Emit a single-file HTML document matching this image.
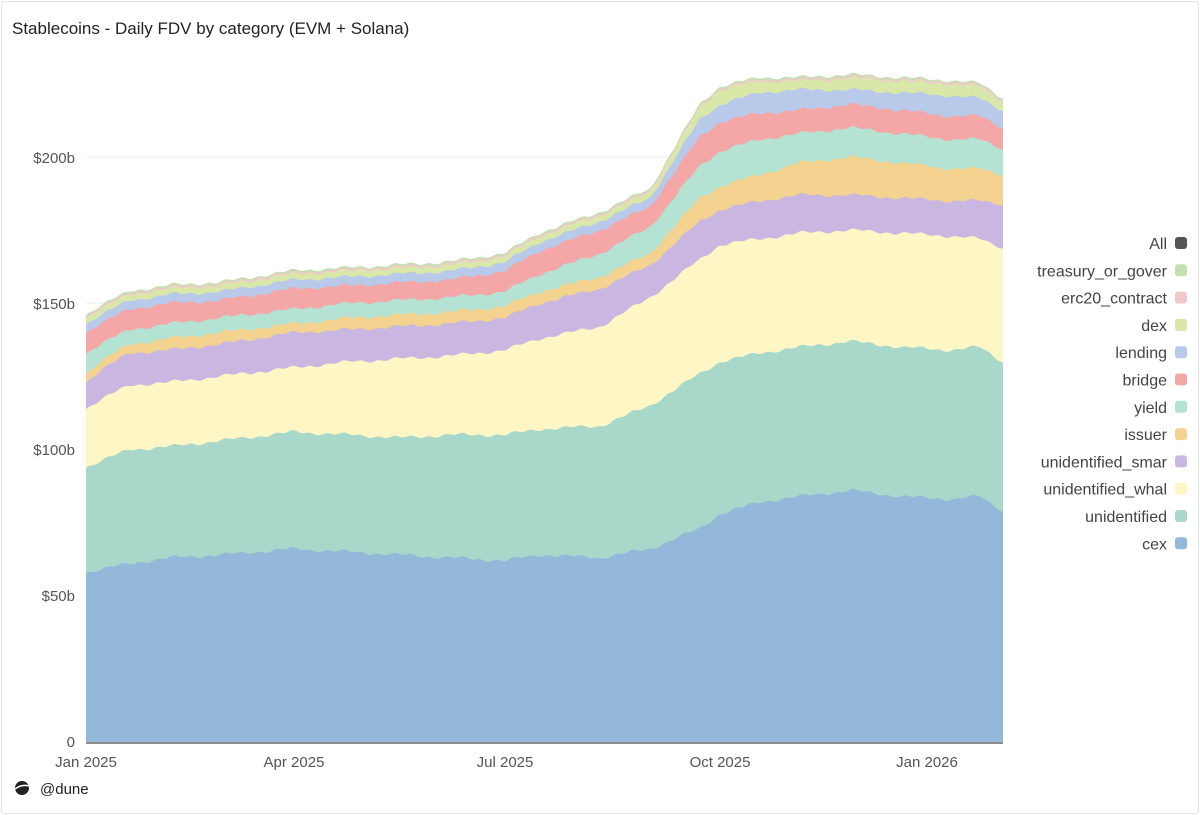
<!DOCTYPE html>
<html><head><meta charset="utf-8"><style>
html,body{margin:0;padding:0;background:#fff;}
body{width:1200px;height:815px;overflow:hidden;position:relative;font-family:"Liberation Sans",sans-serif;}
.card{position:absolute;left:1px;top:1px;width:1196px;height:811px;border:1px solid #e4e4e4;border-radius:4px;}
</style></head><body>
<div class="card"></div>
<svg id="s" width="1200" height="815" style="position:absolute;left:0;top:0" xmlns="http://www.w3.org/2000/svg">
<text x="12" y="34" font-size="17" fill="#222" font-family="Liberation Sans, sans-serif">Stablecoins - Daily FDV by category (EVM + Solana)</text>
<g id="grid"></g>
<g id="areas"></g>
<g font-size="15" fill="#555" font-family="Liberation Sans, sans-serif" text-anchor="end">
<text x="75" y="747">0</text>
<text x="75" y="601">$50b</text>
<text x="75" y="455">$100b</text>
<text x="75" y="309">$150b</text>
<text x="75" y="163">$200b</text>
</g>
<line x1="86" y1="743" x2="1003" y2="743" stroke="#666" stroke-width="1.5"/>
<g font-size="15" fill="#555" font-family="Liberation Sans, sans-serif" text-anchor="middle">
<text x="86" y="767">Jan 2025</text>
<text x="294" y="767">Apr 2025</text>
<text x="505" y="767">Jul 2025</text>
<text x="720" y="767">Oct 2025</text>
<text x="927" y="767">Jan 2026</text>
</g>
<g id="legend" font-size="16" fill="#444" font-family="Liberation Sans, sans-serif" text-anchor="end"></g>
<circle cx="22" cy="788" r="7" fill="#222"/>
<path d="M15 789 Q22 784 29 786" stroke="#fff" stroke-width="1.5" fill="none"/>
<text x="40" y="794" font-size="15" fill="#222" font-family="Liberation Sans, sans-serif">@dune</text>
</svg>
<script>
var NS="http://www.w3.org/2000/svg";
var g=document.getElementById('grid');
[157,303,449,595].forEach(function(y){var l=document.createElementNS(NS,'line');l.setAttribute('x1',86);l.setAttribute('x2',1003);l.setAttribute('y1',y);l.setAttribute('y2',y);l.setAttribute('stroke','#ececec');g.appendChild(l);});
var X=[86,100,130,170,220,294,350,400,450,505,540,600,650,700,720,760,800,850,900,950,980,1003];
var L=[
[58,59,61,63,64,66,65,64,63,62,64,63,66,73,78,82,84,86,84,83,84,79],
[94,96,100,101,103,106,105,104,105,105,107,108,115,126,130,133,135,137,135,134,135,130],
[114,117,122,123,125,128,130,131,132,134,138,142,152,165,170,172,174,175,174,173,172,169],
[123,127,133,134,136,140,141,142,143,145,150,155,163,178,182,185,187,187,186,185,185,184],
[126,130,136,138,140,143,145,146,147,149,154,159,167,186,190,194,198,200,198,196,196,194],
[133,136,141,143,145,148,150,151,152,154,160,167,176,197,202,206,208,210,208,206,206,203],
[140,143,148,150,151,155,156,157,158,161,168,175,183,207,212,215,216,218,216,214,214,210],
[143,146,151,153,154,158,159,160,161,164,171,178,186,213,218,222,223,223,222,221,220,216],
[145,148,153,155,156,160,161,162,163,166,173,180,188,217,223,226,226,227,226,225,224,219]
];
var C=['#93b8d9','#a8d8c9','#fff6c6','#c9b7e1','#f3d38f','#b5e3d3','#f4a7a6','#b9c9e9','#d9e7a9','#f1c9cd','#c4e0b1'];
function interp(arr,x){for(var i=0;i<X.length-1;i++){if(x<=X[i+1]){var t=(x-X[i])/(X[i+1]-X[i]);return arr[i]+(arr[i+1]-arr[i])*t;}}return arr[arr.length-1];}
var xs=[];for(var x=86;x<=1003;x+=3)xs.push(x);if(xs[xs.length-1]!=1003)xs.push(1003);
function noise(x){return Math.sin(x*0.37)*0.35+Math.sin(x*0.11+1.3)*0.4;}
var tops=[];
for(var k=0;k<11;k++){tops.push(xs.map(function(x,i){var v;
 if(k<9)v=interp(L[k],x);else v=interp(L[8],x)+(k-8)*0.6;
 return v+noise(x);}));}
var y=function(v){return 742-v*2.925;};
var A=document.getElementById('areas');
for(var k=10;k>=0;k--){
 var d='M'+xs[0]+' 742';
 xs.forEach(function(x,i){d+=' L'+x+' '+y(tops[k][i]).toFixed(1);});
 d+=' L1003 742 Z';
 var p=document.createElementNS(NS,'path');p.setAttribute('d',d);p.setAttribute('fill',C[k]);A.appendChild(p);
}
var names=['All','treasury_or_gover','erc20_contract','dex','lending','bridge','yield','issuer','unidentified_smar','unidentified_whal','unidentified','cex'];
var lc=['#555','#c4e0b1','#f1c9cd','#d9e7a9','#b9c9e9','#f4a7a6','#b5e3d3','#f3d38f','#c9b7e1','#fff6c6','#a8d8c9','#93b8d9'];
var LG=document.getElementById('legend');
names.forEach(function(n,i){var yy=243+i*27.3;
 var t=document.createElementNS(NS,'text');t.setAttribute('x',1167);t.setAttribute('y',yy+6);t.textContent=n;LG.appendChild(t);
 var r=document.createElementNS(NS,'rect');r.setAttribute('x',1175);r.setAttribute('y',yy-6);r.setAttribute('width',12);r.setAttribute('height',12);r.setAttribute('rx',3);r.setAttribute('fill',lc[i]);LG.appendChild(r);});
</script>
</body></html>
